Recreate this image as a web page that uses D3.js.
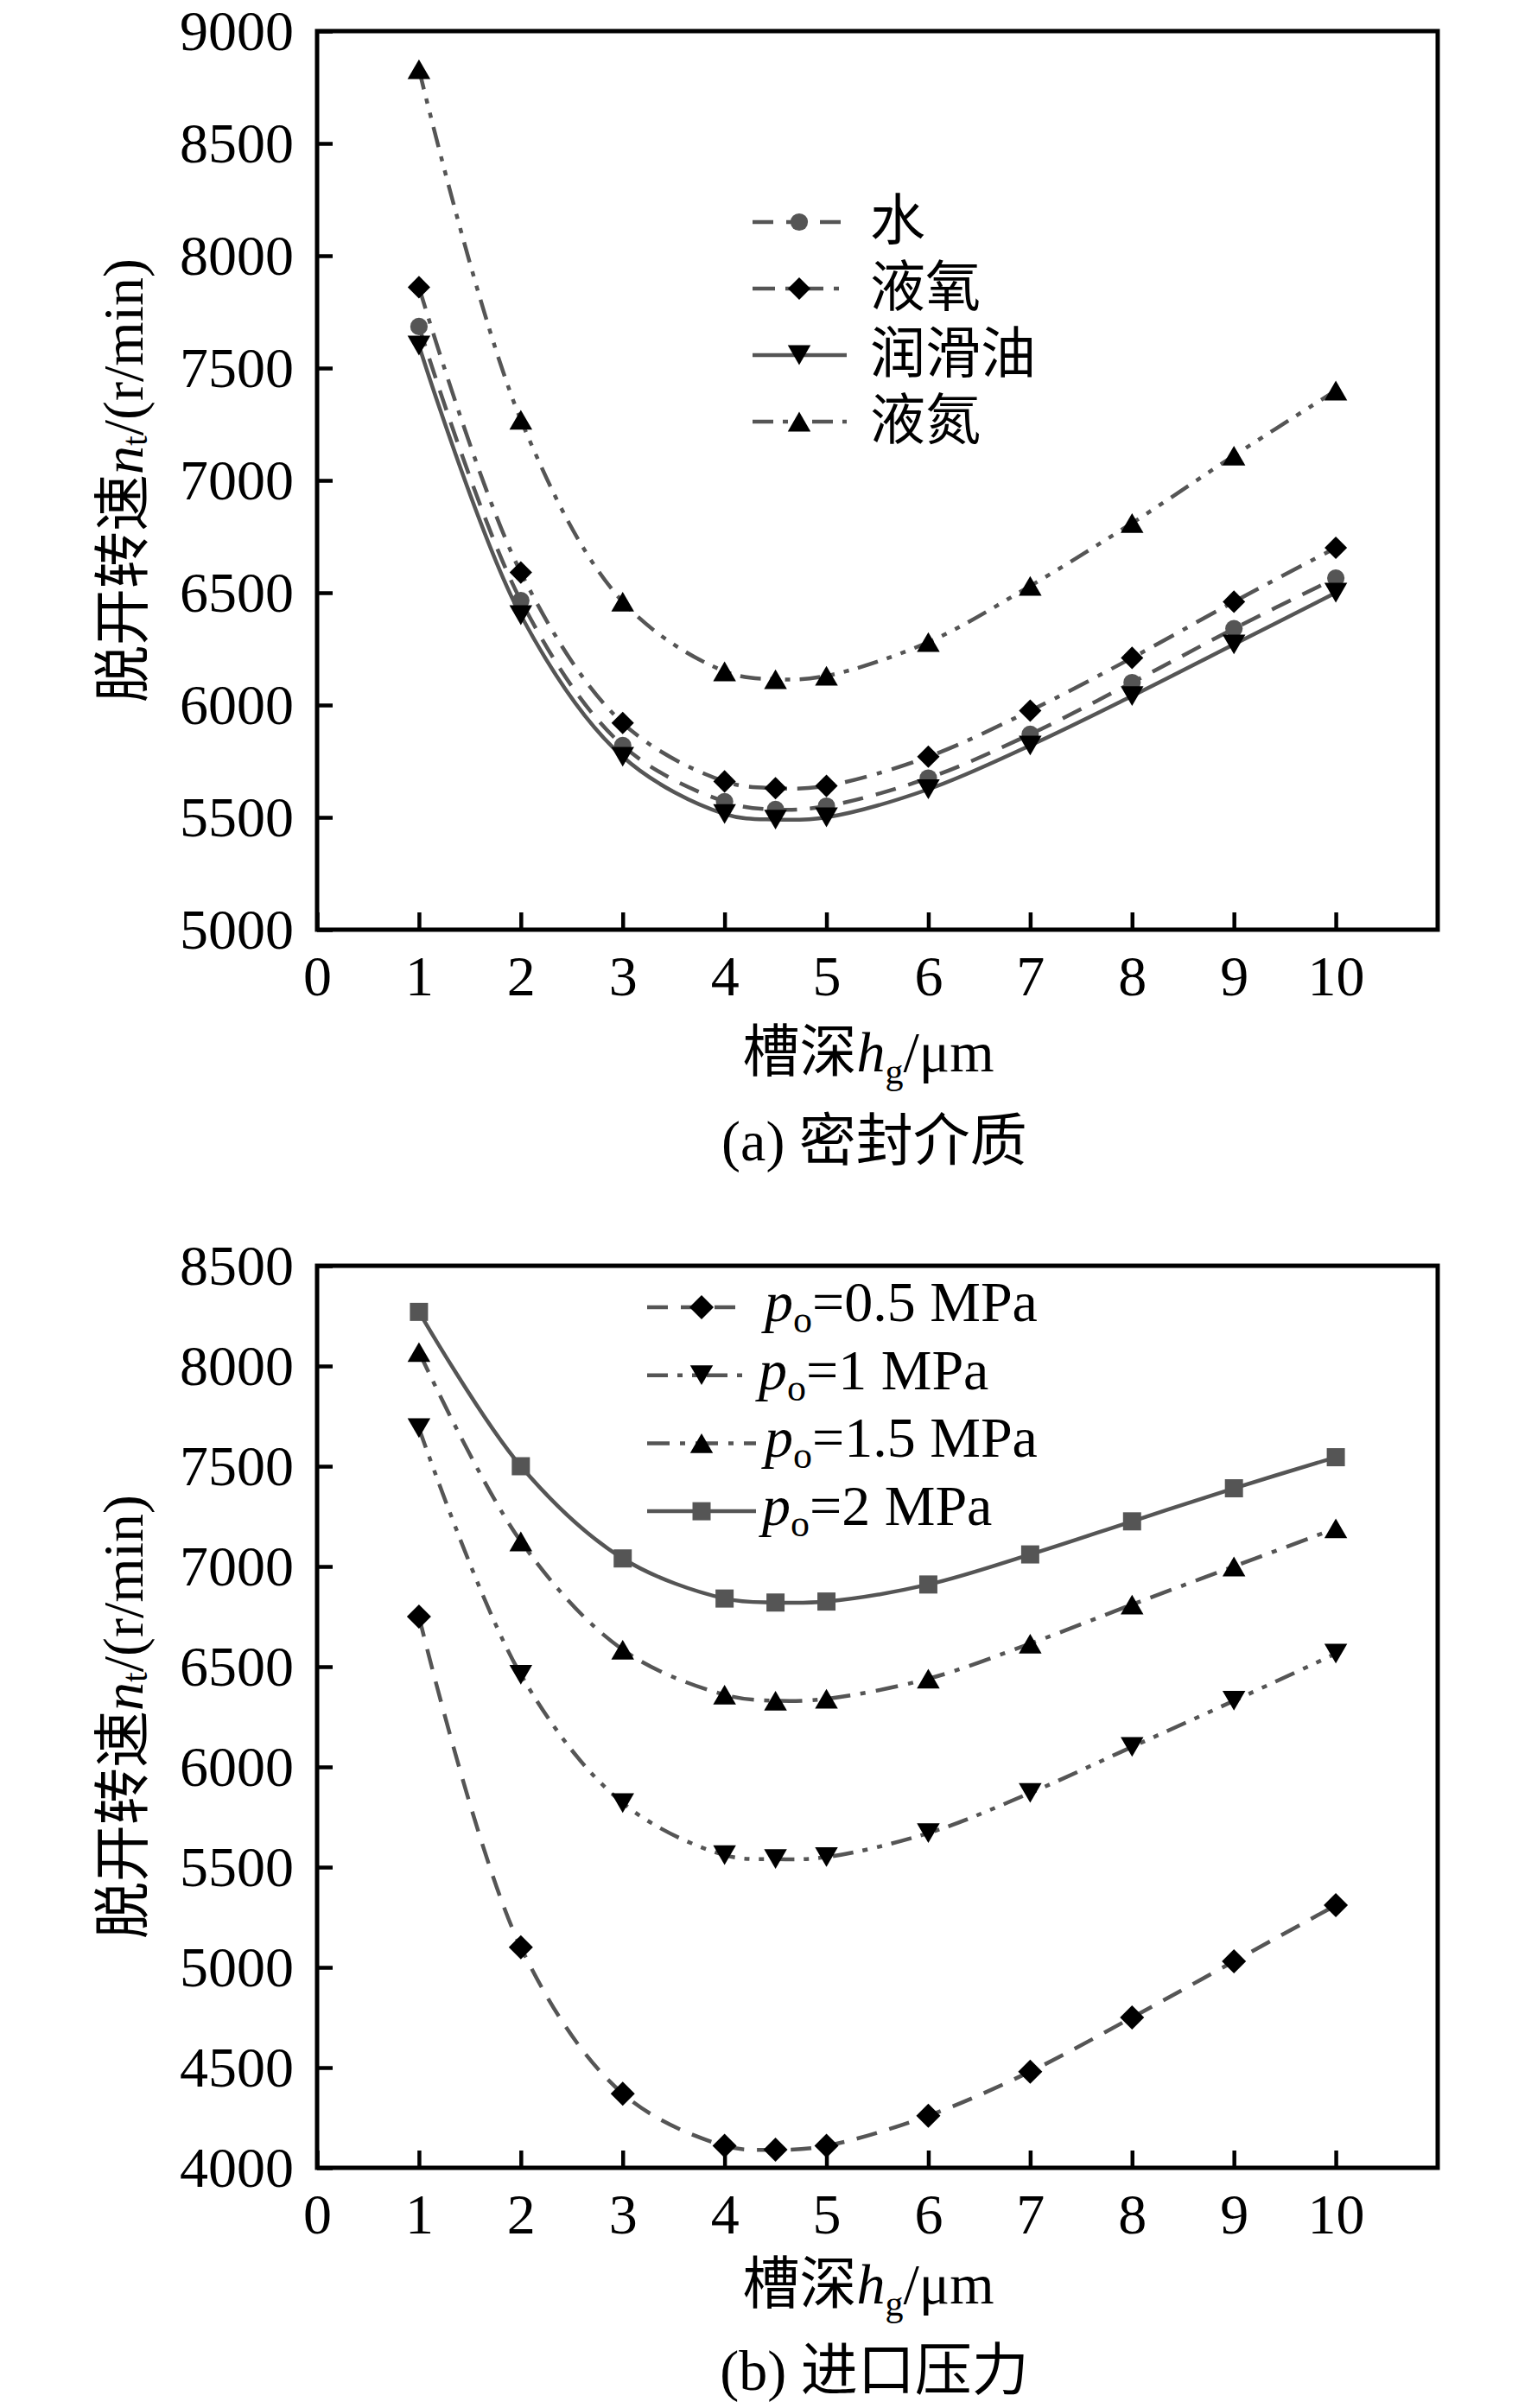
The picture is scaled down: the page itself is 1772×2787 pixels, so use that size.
<!DOCTYPE html>
<html><head><meta charset="utf-8">
<script src="https://cdn.jsdelivr.net/npm/d3@7"></script>
<style>body{margin:0;background:#fff}</style>
</head><body>
<svg id="c" width="1772" height="2787"></svg>
<script>
// ---------- data ----------
const hg = [1, 2, 3, 4, 4.5, 5, 6, 7, 8, 9, 10];
const xTicks = [0, 1, 2, 3, 4, 5, 6, 7, 8, 9, 10];

// (a) seal media
const mediaNames = ["水", "液氧", "润滑油", "液氮"];
const water = [7685, 6465, 5820, 5570, 5535, 5550, 5675, 5870, 6100, 6340, 6565];
const liquidOxygen = [7860, 6590, 5920, 5660, 5630, 5640, 5770, 5975, 6210, 6460, 6700];
const lubeOil = [7600, 6400, 5770, 5515, 5490, 5500, 5625, 5820, 6040, 6270, 6500];
const liquidNitrogen = [8830, 7270, 6460, 6150, 6115, 6130, 6280, 6530, 6810, 7110, 7400];
const yTicksA = [5000, 5500, 6000, 6500, 7000, 7500, 8000, 8500, 9000];

// (b) inlet pressure
const pressureLabels = ["0.5", "1", "1.5", "2"];
const p05 = [6750, 5100, 4370, 4110, 4090, 4110, 4260, 4480, 4750, 5030, 5310];
const p1 = [7690, 6460, 5820, 5560, 5540, 5550, 5670, 5870, 6100, 6330, 6565];
const p15 = [8070, 7125, 6585, 6360, 6330, 6340, 6440, 6615, 6810, 7000, 7190];
const p2 = [8270, 7500, 7040, 6840, 6820, 6825, 6910, 7060, 7225, 7390, 7545];
const yTicksB = [4000, 4500, 5000, 5500, 6000, 6500, 7000, 7500, 8000, 8500];

// ---------- styles ----------
const FONT = "'Liberation Serif','Times New Roman','Noto Sans CJK SC',serif";
const LINE = "#555555";
const DASH = "24,15", DASHDOT = "26,12,6,12", DASHDOTDOT = "24,11,6,11,6,11";

const symDiamond = {draw(p, s){ const r = Math.sqrt(s)/2; p.moveTo(0,-r); p.lineTo(r,0); p.lineTo(0,r); p.lineTo(-r,0); p.closePath(); }};
const symTriUp = {draw(p, s){ const w = Math.sqrt(s), h = w*0.86; p.moveTo(0,-h/2); p.lineTo(w/2,h/2); p.lineTo(-w/2,h/2); p.closePath(); }};
const symTriDown = {draw(p, s){ const w = Math.sqrt(s), h = w*0.86; p.moveTo(0,h/2); p.lineTo(w/2,-h/2); p.lineTo(-w/2,-h/2); p.closePath(); }};

const svg = d3.select("#c");

function panel(cfg){
  const x = d3.scaleLinear().domain([0, 11]).range([cfg.left, cfg.right]);
  const y = d3.scaleLinear().domain(cfg.yDomain).range([cfg.bottom, cfg.top]);
  const g = svg.append("g");

  // axes
  const ax = g.append("g").attr("transform", `translate(0,${cfg.bottom})`)
    .call(d3.axisBottom(x).tickValues(xTicks).tickSizeInner(-20).tickSizeOuter(0).tickPadding(29).tickFormat(d3.format("d")));
  const ay = g.append("g").attr("transform", `translate(${cfg.left},0)`)
    .call(d3.axisLeft(y).tickValues(cfg.yTicks).tickSizeInner(-18).tickSizeOuter(0).tickPadding(27).tickFormat(d3.format("d")));
  [ax, ay].forEach(a => {
    a.select(".domain").remove();
    a.selectAll(".tick line").attr("stroke", "#000").attr("stroke-width", 4.5);
    a.selectAll(".tick text").attr("font-family", FONT).attr("font-size", 66).attr("fill", "#000");
  });

  // frame
  g.append("rect").attr("x", cfg.left).attr("y", cfg.top)
    .attr("width", cfg.right - cfg.left).attr("height", cfg.bottom - cfg.top)
    .attr("fill", "none").attr("stroke", "#000").attr("stroke-width", 5);

  const line = d3.line().x((d, i) => x(hg[i])).y(d => y(d)).curve(d3.curveCatmullRom.alpha(0.5));

  cfg.series.forEach(s => {
    g.append("path").attr("d", line(s.values)).attr("fill", "none")
      .attr("stroke", LINE).attr("stroke-width", 4.5).attr("stroke-dasharray", s.dash);
  });
  cfg.series.forEach(s => {
    g.selectAll(null).data(s.values).enter().append("path")
      .attr("d", d3.symbol().type(s.sym).size(s.size)())
      .attr("transform", (d, i) => `translate(${x(hg[i])},${y(d)})`)
      .attr("fill", s.fill);
  });

  // legend
  const L = cfg.legend;
  cfg.series.forEach((s, i) => {
    const cy = L.y0 + i * L.dy;
    g.append("line").attr("x1", L.x1).attr("x2", L.x2[i]).attr("y1", cy).attr("y2", cy)
      .attr("stroke", LINE).attr("stroke-width", 4.5).attr("stroke-dasharray", s.dash);
    g.append("path").attr("d", d3.symbol().type(s.sym).size(s.size)())
      .attr("transform", `translate(${L.xm},${cy})`).attr("fill", s.fill);
    const t = g.append("text").attr("x", L.xt[i]).attr("y", cy + L.base)
      .attr("font-family", FONT).attr("font-size", L.fs).attr("fill", "#000");
    L.label(t, s.name);
  });

  // y label
  const cyL = (cfg.top + cfg.bottom) / 2;
  const yl = g.append("text").attr("transform", `translate(142,${cyL}) rotate(-90)`)
    .attr("text-anchor", "middle").attr("dominant-baseline", "central")
    .attr("font-family", FONT).attr("font-size", 66).attr("fill", "#000");
  yl.append("tspan").text("脱开转速");
  yl.append("tspan").attr("font-style", "italic").text("n");
  yl.append("tspan").attr("font-size", 42).attr("dy", 14).text("t");
  yl.append("tspan").attr("dy", -14).text("/(r/min)");

  // x label
  const xl = g.append("text").attr("x", 1005).attr("y", cfg.xlabelY)
    .attr("text-anchor", "middle").attr("font-family", FONT).attr("font-size", 66).attr("fill", "#000");
  xl.append("tspan").text("槽深");
  xl.append("tspan").attr("font-style", "italic").text("h");
  xl.append("tspan").attr("font-size", 42).attr("dy", 14).text("g");
  xl.append("tspan").attr("dy", -14).text("/μm");

  g.append("text").attr("x", 1012).attr("y", cfg.captionY).attr("text-anchor", "middle")
    .attr("font-family", FONT).attr("font-size", 66).attr("fill", "#000").text(cfg.caption);
}

panel({
  left: 367, right: 1664, top: 36, bottom: 1076,
  yDomain: [5000, 9000], yTicks: yTicksA,
  xlabelY: 1240, captionY: 1343, caption: "(a) 密封介质",
  series: [
    {name: mediaNames[0], values: water, dash: DASH, sym: d3.symbolCircle, size: 320, fill: "#555555"},
    {name: mediaNames[1], values: liquidOxygen, dash: DASHDOT, sym: symDiamond, size: 680, fill: "#000"},
    {name: mediaNames[2], values: lubeOil, dash: null, sym: symTriDown, size: 700, fill: "#000"},
    {name: mediaNames[3], values: liquidNitrogen, dash: DASHDOTDOT, sym: symTriUp, size: 700, fill: "#000"}
  ],
  legend: {x1: 871, x2: [980, 980, 980, 980], xm: 925, xt: [1007, 1007, 1007, 1007], y0: 257, dy: 77, base: 20, fs: 64,
    label: (t, n) => t.text(n)}
});

panel({
  left: 367, right: 1664, top: 1465, bottom: 2509,
  yDomain: [4000, 8500], yTicks: yTicksB,
  xlabelY: 2666, captionY: 2766, caption: "(b) 进口压力",
  series: [
    {name: pressureLabels[0], values: p05, dash: DASH, sym: symDiamond, size: 784, fill: "#000"},
    {name: pressureLabels[1], values: p1, dash: DASHDOTDOT, sym: symTriDown, size: 700, fill: "#000"},
    {name: pressureLabels[2], values: p15, dash: DASHDOT, sym: symTriUp, size: 700, fill: "#000"},
    {name: pressureLabels[3], values: p2, dash: null, sym: d3.symbolSquare, size: 440, fill: "#555555"}
  ],
  legend: {x1: 749, x2: [861, 864, 875, 875], xm: 812, xt: [885, 878, 885, 882], y0: 1513, dy: 78.7, base: 16, fs: 66,
    label: (t, n) => {
      t.append("tspan").attr("font-style", "italic").text("p");
      t.append("tspan").attr("font-size", 44).attr("dy", 13).text("o");
      t.append("tspan").attr("dy", -13).text("=" + n + " MPa");
    }}
});
</script>
</body></html>
